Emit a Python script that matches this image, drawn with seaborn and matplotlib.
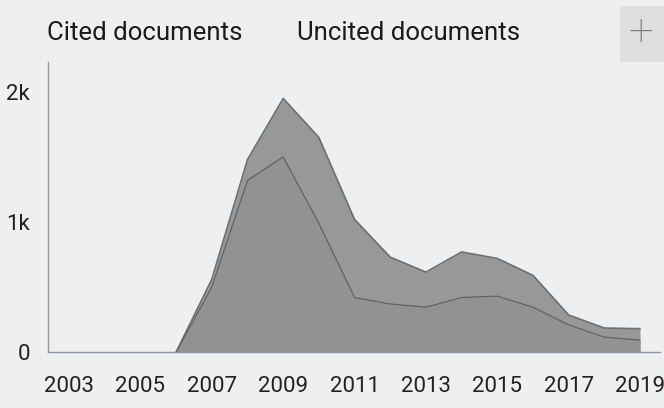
import numpy as np
import pandas as pd
import matplotlib
matplotlib.use('Agg')
import matplotlib.pyplot as plt
import seaborn as sns

# data (documents per year)
years = list(range(2003, 2020))
cited = [0, 0, 0, 0, 500, 1320, 1500, 990, 420, 370, 345, 420, 430, 345, 210, 115, 92]
uncited = [0, 0, 0, 0, 60, 160, 450, 660, 600, 360, 270, 350, 290, 245, 75, 70, 88]
tick_years = [2003, 2005, 2007, 2009, 2011, 2013, 2015, 2017, 2019]
series_names = ['Cited documents', 'Uncited documents']

df = pd.DataFrame({'year': years, 'cited': cited, 'uncited': uncited})
df['total'] = df['cited'] + df['uncited']

sns.set_theme(style='white')
plt.rcParams['font.family'] = ['Roboto', 'DejaVu Sans']

bg = '#eeeff1'
fig = plt.figure(figsize=(6.64, 4.08), dpi=100, facecolor=bg)
ax = fig.add_axes([0.0723, 0.137, 0.9217, 0.711])
ax.set_facecolor(bg)

# stacked areas
ax.fill_between(df['year'], 0, df['total'], color='#989898', lw=0)
ax.fill_between(df['year'], 0, df['cited'], color='#929292', lw=0)
nz = df[df['year'] >= 2006]
sns.lineplot(data=nz, x='year', y='total', ax=ax, color='#6e6e6e', lw=1.2)
sns.lineplot(data=nz, x='year', y='cited', ax=ax, color='#626262', lw=0.9)

ax.set_xlim(2002.41, 2019.56)
ax.set_ylim(0, 2230)
ax.set_xticks(tick_years)
ax.set_xticklabels([str(y) for y in tick_years])
ax.set_yticks([0, 1000, 2000])
ax.set_yticklabels(['0', '1k', '2k'])
ax.set_xlabel('')
ax.set_ylabel('')
ax.tick_params(axis='both', length=0, labelsize=16, colors='#222222')
ax.tick_params(axis='x', pad=17)
ax.tick_params(axis='y', pad=13)
for s in ['top', 'right']:
    ax.spines[s].set_visible(False)
ax.spines['left'].set_color('#9a9a9a')
ax.spines['left'].set_linewidth(1.0)
ax.spines['bottom'].set_color('#8a96a8')
ax.spines['bottom'].set_linewidth(1.0)

# legend as plain text labels
fig.text(47 / 664, 1 - 33 / 408, series_names[0], fontsize=18.5, color='#1a1a1a', va='center', ha='left')
fig.text(297 / 664, 1 - 33 / 408, series_names[1], fontsize=18.5, color='#1a1a1a', va='center', ha='left')

# "+" button at top right
fig.patches.append(plt.Rectangle((620 / 664, 1 - 62 / 408), 44 / 664, 56 / 408,
                                 transform=fig.transFigure, color='#dedfe0', lw=0))
fig.text(641 / 664, 1 - 34 / 408, '+', fontsize=32, color='#7a7a7a', va='center', ha='center',
         fontweight='light')

plt.savefig('out.png', dpi=100, facecolor=bg)
